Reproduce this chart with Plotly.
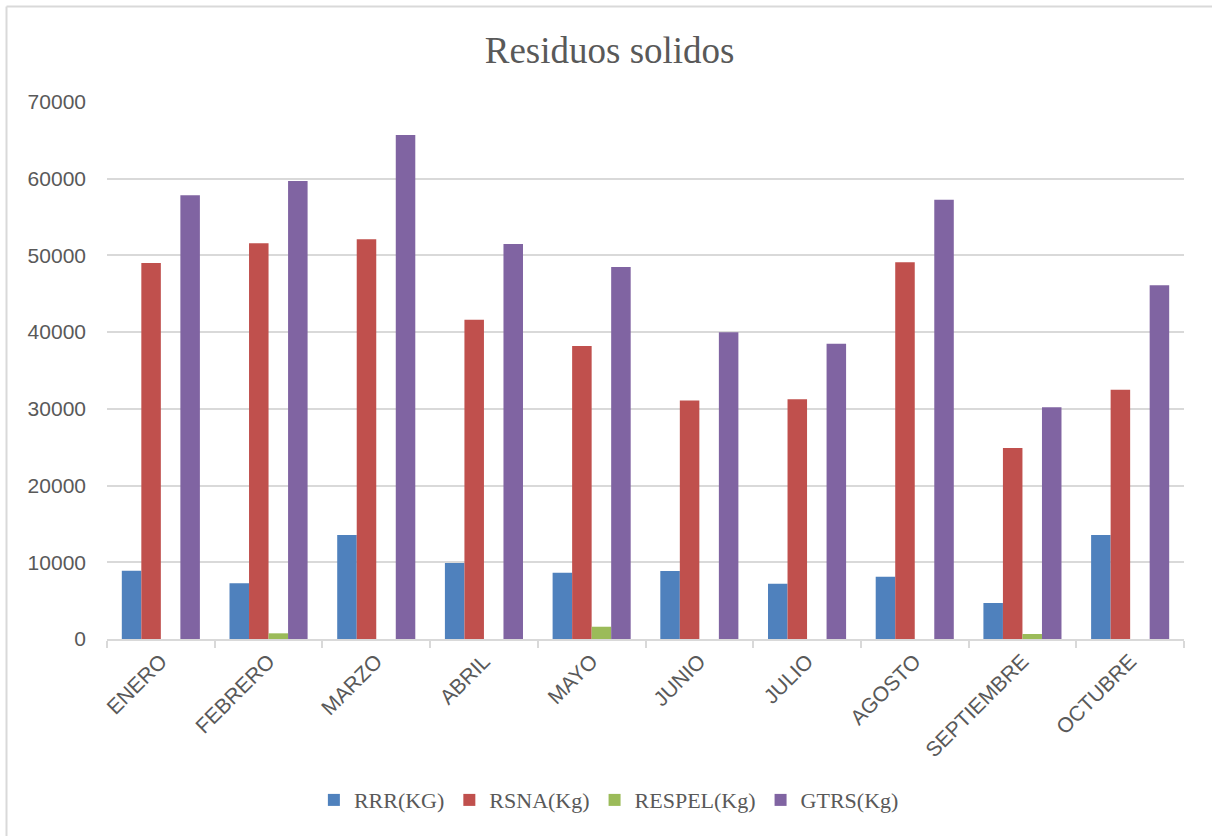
import plotly.graph_objects as go

months = ["ENERO", "FEBRERO", "MARZO", "ABRIL", "MAYO", "JUNIO", "JULIO",
          "AGOSTO", "SEPTIEMBRE", "OCTUBRE"]
rrr = [8900, 7260, 13560, 9900, 8650, 8870, 7210, 8120, 4690, 13560]
rsna = [49000, 51600, 52100, 41600, 38200, 31100, 31250, 49100, 24900, 32500]
respel = [0, 740, 0, 0, 1600, 0, 0, 0, 650, 0]
gtrs = [57850, 59700, 65700, 51500, 48500, 40000, 38500, 57250, 30200, 46100]

series = [
    ("RRR(KG)", rrr, "#4F81BD"),
    ("RSNA(Kg)", rsna, "#C0504D"),
    ("RESPEL(Kg)", respel, "#9BBB59"),
    ("GTRS(Kg)", gtrs, "#8064A2"),
]

fig = go.Figure()
for name, vals, col in series:
    fig.add_trace(go.Bar(x=months, y=vals, name=name, marker_color=col,
                         marker_line_width=0))

fig.update_layout(
    width=1212, height=836,
    margin=dict(l=107, r=28, t=102, b=197),
    paper_bgcolor="white", plot_bgcolor="white",
    barmode="group", bargap=0.275, bargroupgap=0,
    title=dict(text="Residuos solidos", xref="container", x=0.503,
               xanchor="center", yref="container", y=1 - 50 / 836,
               yanchor="middle",
               font=dict(family="Liberation Serif", size=37, color="#595959")),
    legend=dict(orientation="h", x=0.466, xanchor="center", y=-0.30,
                yanchor="middle", itemwidth=30,
                font=dict(family="Liberation Serif", size=22, color="#595959")),
    showlegend=True,
)

fig.update_yaxes(range=[0, 70000], dtick=10000, showgrid=True,
                 gridcolor="#d9d9d9", gridwidth=1.5, zeroline=False,
                 showline=False, ticks="", tickformat="d",
                 ticklabelstandoff=20,
                 tickfont=dict(family="Liberation Sans", size=21, color="#595959"))
fig.update_xaxes(showline=True, linecolor="#d9d9d9", linewidth=1.5,
                 ticks="outside", tickson="boundaries", ticklen=7,
                 tickcolor="#d9d9d9", tickwidth=1.5, tickangle=-45,
                 showgrid=False,
                 tickfont=dict(family="Liberation Sans", size=21, color="#595959"))

# chart frame (left and top edges visible)
fig.add_shape(type="line", xref="paper", yref="paper",
              x0=(6.5 - 107) / 1077, x1=(6.5 - 107) / 1077,
              y0=(639 - 6.5) / 537, y1=-0.5,
              line=dict(color="#d9d9d9", width=2))
fig.add_shape(type="line", xref="paper", yref="paper",
              x0=(6.5 - 107) / 1077, x1=1.2,
              y0=(639 - 6.5) / 537, y1=(639 - 6.5) / 537,
              line=dict(color="#d9d9d9", width=2))

fig.write_html("out.html")
